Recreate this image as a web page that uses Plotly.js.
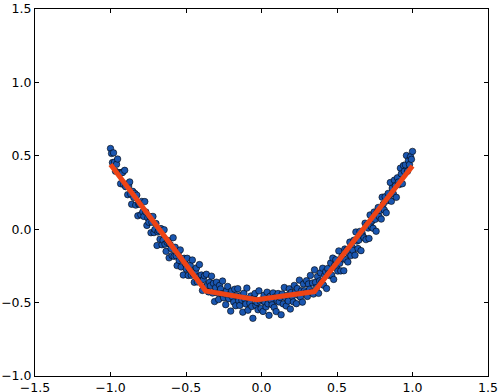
<!DOCTYPE html>
<html>
<head>
<meta charset="utf-8">
<script src="https://cdn.plot.ly/plotly-3.0.1.min.js"></script>
<style>html,body{margin:0;padding:0;background:#fff;}#chart{width:500px;height:392px;}</style>
</head>
<body>
<div id="chart"></div>
<script>
// Noisy data points (x, y)
const xLeft = [-1.000,-0.993,-0.987,-0.980,-0.973,-0.967,-0.960,-0.953,-0.946,-0.940,-0.933,-0.926,-0.920,-0.913,-0.906,-0.900,-0.893,-0.886,-0.880,-0.873,-0.866,-0.860,-0.853,-0.846,-0.839,-0.833,-0.826,-0.819,-0.813,-0.806,-0.799,-0.793,-0.786,-0.779,-0.773,-0.766,-0.759,-0.753,-0.746,-0.739,-0.732,-0.726,-0.719,-0.712,-0.706,-0.699,-0.692,-0.686,-0.679,-0.672,-0.666,-0.659,-0.652,-0.645,-0.639,-0.632,-0.625,-0.619,-0.612,-0.605,-0.599,-0.592,-0.585,-0.579,-0.572,-0.565,-0.559,-0.552,-0.545,-0.538,-0.532,-0.525,-0.518,-0.512,-0.505,-0.498,-0.492,-0.485,-0.478,-0.472,-0.465,-0.458,-0.452,-0.445,-0.438,-0.431,-0.425,-0.418,-0.411,-0.405,-0.398,-0.391,-0.385,-0.378,-0.371,-0.365,-0.358,-0.351,-0.344,-0.338,-0.331,-0.324,-0.318,-0.311,-0.304,-0.298,-0.291,-0.284,-0.278,-0.271,-0.264,-0.258,-0.251,-0.244,-0.237,-0.231,-0.224,-0.217,-0.211,-0.204,-0.197,-0.191,-0.184,-0.177,-0.171,-0.164,-0.157,-0.151,-0.144,-0.137,-0.130,-0.124,-0.117,-0.110,-0.104,-0.097,-0.090,-0.084,-0.077,-0.070,-0.064,-0.057,-0.050,-0.043,-0.037,-0.030,-0.023,-0.017,-0.010,-0.003];
const xRight = [0.003,0.010,0.017,0.023,0.030,0.037,0.043,0.050,0.057,0.064,0.070,0.077,0.084,0.090,0.097,0.104,0.110,0.117,0.124,0.130,0.137,0.144,0.151,0.157,0.164,0.171,0.177,0.184,0.191,0.197,0.204,0.211,0.217,0.224,0.231,0.237,0.244,0.251,0.258,0.264,0.271,0.278,0.284,0.291,0.298,0.304,0.311,0.318,0.324,0.331,0.338,0.344,0.351,0.358,0.365,0.371,0.378,0.385,0.391,0.398,0.405,0.411,0.418,0.425,0.431,0.438,0.445,0.452,0.458,0.465,0.472,0.478,0.485,0.492,0.498,0.505,0.512,0.518,0.525,0.532,0.538,0.545,0.552,0.559,0.565,0.572,0.579,0.585,0.592,0.599,0.605,0.612,0.619,0.625,0.632,0.639,0.645,0.652,0.659,0.666,0.672,0.679,0.686,0.692,0.699,0.706,0.712,0.719,0.726,0.732,0.739,0.746,0.753,0.759,0.766,0.773,0.779,0.786,0.793,0.799,0.806,0.813,0.819,0.826,0.833,0.839,0.846,0.853,0.860,0.866,0.873,0.880,0.886,0.893,0.900,0.906,0.913,0.920,0.926,0.933,0.940,0.946,0.953,0.960,0.967,0.973,0.980,0.987,0.993,1.000];
const yLeft = [0.550,0.516,0.454,0.520,0.457,0.395,0.442,0.478,0.385,0.384,0.310,0.387,0.386,0.304,0.401,0.290,0.307,0.235,0.294,0.322,0.240,0.170,0.258,0.216,0.244,0.164,0.232,0.091,0.171,0.170,0.098,0.189,0.118,0.087,0.188,0.117,0.026,0.077,0.047,0.086,-0.024,0.047,0.087,-0.023,-0.002,0.039,-0.111,-0.019,-0.009,-0.068,0.004,-0.106,-0.075,-0.004,-0.102,-0.151,-0.089,-0.077,-0.195,-0.104,-0.131,-0.180,-0.058,-0.185,-0.123,-0.181,-0.248,-0.165,-0.213,-0.141,-0.257,-0.204,-0.312,-0.198,-0.235,-0.272,-0.198,-0.315,-0.272,-0.247,-0.314,-0.210,-0.306,-0.362,-0.288,-0.264,-0.359,-0.325,-0.241,-0.356,-0.312,-0.417,-0.342,-0.317,-0.392,-0.307,-0.382,-0.427,-0.362,-0.386,-0.320,-0.435,-0.369,-0.493,-0.398,-0.361,-0.435,-0.479,-0.383,-0.407,-0.440,-0.353,-0.467,-0.440,-0.514,-0.417,-0.390,-0.473,-0.445,-0.558,-0.421,-0.464,-0.496,-0.409,-0.521,-0.453,-0.405,-0.487,-0.519,-0.451,-0.483,-0.565,-0.436,-0.478,-0.509,-0.401,-0.552,-0.473,-0.504,-0.455,-0.526,-0.607,-0.467,-0.438,-0.519,-0.499,-0.549,-0.420,-0.490,-0.540];
const yRight = [-0.480,-0.560,-0.450,-0.499,-0.529,-0.429,-0.508,-0.587,-0.457,-0.486,-0.515,-0.434,-0.533,-0.462,-0.561,-0.489,-0.438,-0.496,-0.465,-0.583,-0.441,-0.509,-0.397,-0.465,-0.523,-0.451,-0.489,-0.406,-0.544,-0.431,-0.458,-0.495,-0.383,-0.430,-0.507,-0.404,-0.450,-0.347,-0.463,-0.420,-0.497,-0.373,-0.419,-0.435,-0.351,-0.458,-0.373,-0.409,-0.315,-0.430,-0.366,-0.442,-0.277,-0.362,-0.397,-0.322,-0.437,-0.352,-0.297,-0.362,-0.266,-0.381,-0.315,-0.289,-0.404,-0.268,-0.302,-0.316,-0.230,-0.314,-0.197,-0.342,-0.245,-0.208,-0.262,-0.285,-0.148,-0.232,-0.284,-0.187,-0.201,-0.283,-0.135,-0.208,-0.141,-0.223,-0.165,-0.088,-0.180,-0.121,-0.144,-0.075,-0.177,-0.019,-0.081,-0.132,-0.074,-0.015,-0.146,-0.026,-0.048,-0.059,0.041,-0.071,0.029,0.008,-0.063,0.097,0.017,0.056,0.006,0.117,0.067,-0.014,0.117,0.148,0.087,0.128,0.069,0.218,0.170,0.131,0.221,0.112,0.194,0.244,0.206,0.318,0.190,0.280,0.242,0.334,0.295,0.217,0.350,0.321,0.304,0.416,0.377,0.310,0.434,0.394,0.438,0.502,0.395,0.467,0.440,0.494,0.476,0.530];

// Fitted line vertices
const fitX = [-1.0, -0.37, -0.03, 0.35, 1.0];
const fitY = [0.44, -0.42, -0.48, -0.425, 0.43];

// Axis ticks
const xTicks = [-1.5, -1.0, -0.5, 0.0, 0.5, 1.0, 1.5];
const yTicks = [-1.0, -0.5, 0.0, 0.5, 1.0, 1.5];

const scatter = {
  x: xLeft.concat(xRight),
  y: yLeft.concat(yRight),
  type: 'scatter',
  mode: 'markers',
  marker: {size: 6.5, color: '#1a56b0', line: {color: '#000000', width: 0.6}},
  hoverinfo: 'skip'
};
const fit = {
  x: fitX, y: fitY, type: 'scatter', mode: 'lines',
  line: {color: '#ee4415', width: 5},
  hoverinfo: 'skip'
};

const axisCommon = {
  showgrid: false, zeroline: false, showline: true, linecolor: '#000', linewidth: 1,
  mirror: 'ticks', ticks: 'inside', ticklen: 4, tickcolor: '#000', tickwidth: 1,
  tickformat: '.1f', tickfont: {family: 'DejaVu Sans', size: 12.5, color: '#000'}
};

const layout = {
  width: 500, height: 392,
  margin: {l: 35, r: 12, t: 9, b: 16},
  paper_bgcolor: '#fff', plot_bgcolor: '#fff',
  showlegend: false,
  xaxis: Object.assign({}, axisCommon, {range: [-1.5, 1.5], tickvals: xTicks}),
  yaxis: Object.assign({}, axisCommon, {range: [-1.0, 1.5], tickvals: yTicks})
};

Plotly.newPlot('chart', [scatter, fit], layout, {staticPlot: true, displayModeBar: false});
</script>
</body>
</html>
